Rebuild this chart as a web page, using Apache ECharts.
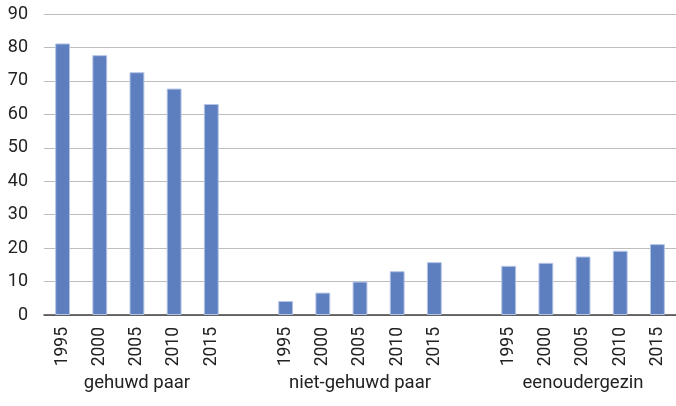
<!DOCTYPE html>
<html>
<head>
<meta charset="utf-8">
<script src="https://cdn.jsdelivr.net/npm/echarts@6/dist/echarts.min.js"></script>
<style>
	html, body { margin: 0; padding: 0; background: #fff; }
	#chart { width: 676px; height: 406px; }
</style>
</head>
<body>
<div id="chart"></div>
<script>
	var years = ['1995', '2000', '2005', '2010', '2015'];
	var groups = ['gehuwd paar', 'niet-gehuwd paar', 'eenoudergezin'];
	var gehuwd = [81.2, 77.7, 72.6, 67.7, 63.1];
	var nietGehuwd = [4.2, 6.7, 10.0, 13.1, 15.8];
	var eenouder = [14.7, 15.6, 17.5, 19.2, 21.2];

	// één lege categorie tussen de groepen
	var yearCats = [];
	var groupCats = [];
	var values = [];
	[gehuwd, nietGehuwd, eenouder].forEach(function (vals, g) {
		if (g > 0) {
			yearCats.push('');
			groupCats.push('');
			values.push(null);
		}
		years.forEach(function (y, i) {
			yearCats.push(y);
			groupCats.push(i === 2 ? groups[g] : '');
			values.push(vals[i]);
		});
	});

	var chart = echarts.init(document.getElementById('chart'));
	var font = 'Roboto, sans-serif';
	chart.setOption({
		animation: false,
		grid: { left: 44, right: 0, top: 14, bottom: 91 },
		xAxis: [{
			type: 'category',
			data: yearCats,
			axisLine: { lineStyle: { color: '#404040', width: 1.5 } },
			axisTick: { show: false },
			axisLabel: {
				interval: 0,
				rotate: 90,
				margin: 12,
				fontFamily: font,
				fontSize: 17.5,
				color: '#222'
			}
		}, {
			type: 'category',
			data: groupCats,
			position: 'bottom',
			offset: 59,
			axisLine: { show: false },
			axisTick: { show: false },
			axisLabel: {
				interval: 0,
				margin: 0,
				fontFamily: font,
				fontSize: 18.5,
				color: '#222'
			}
		}],
		yAxis: {
			type: 'value',
			min: 0,
			max: 90,
			interval: 10,
			axisLine: { show: false },
			axisTick: { show: false },
			axisLabel: {
				margin: 16,
				fontFamily: font,
				fontSize: 18,
				color: '#222'
			},
			splitLine: { lineStyle: { color: '#bdbdbd', width: 1.2 } }
		},
		series: [{
			type: 'bar',
			data: values,
			barWidth: '40%',
			itemStyle: {
				color: '#5e7fbf',
				borderColor: '#b5c5e5',
				borderWidth: 1
			}
		}]
	});
</script>
</body>
</html>
